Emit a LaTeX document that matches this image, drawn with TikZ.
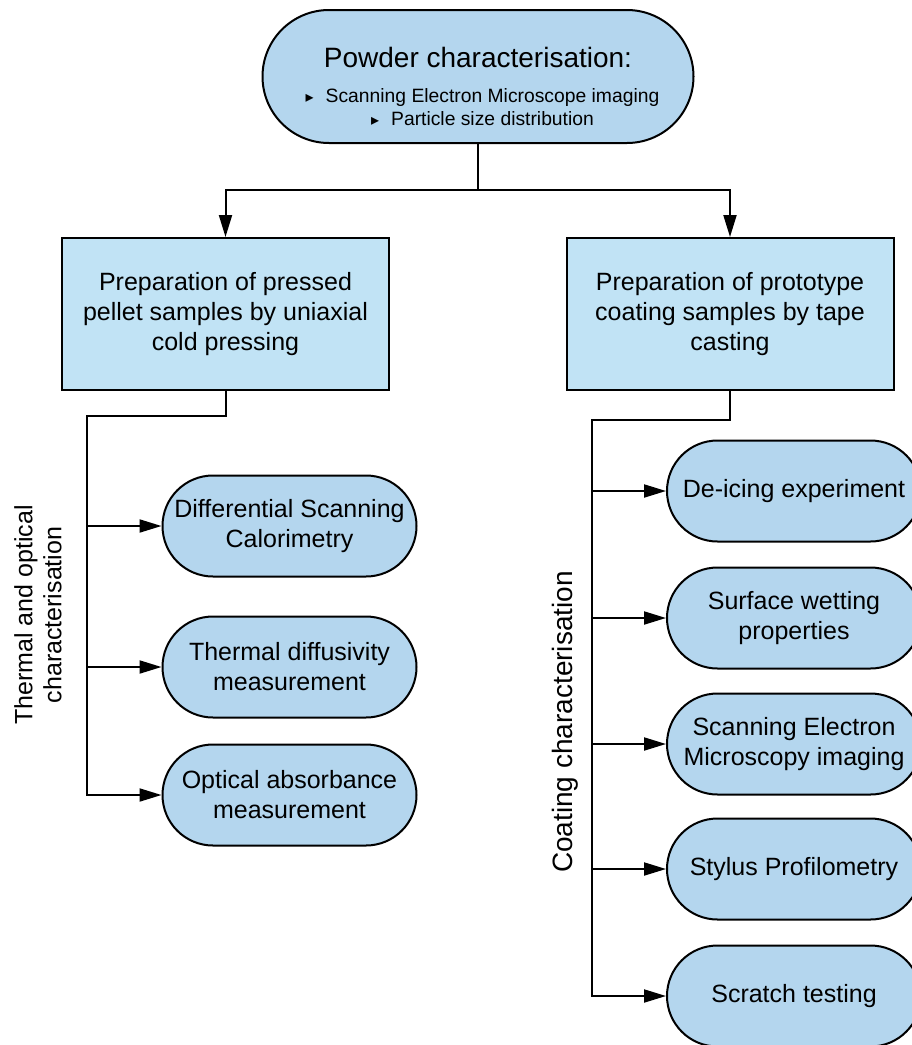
\documentclass[tikz,border=0pt]{standalone}
\usepackage{fontspec}
\setmainfont{Liberation Sans}
\newfontfamily\bulletfont{DejaVu Sans}
\usetikzlibrary{shapes.misc,arrows.meta,calc}
\definecolor{pillblue}{RGB}{180,214,238}
\definecolor{boxblue}{RGB}{193,227,245}
\newcommand{\bul}{{\bulletfont\fontsize{16}{16}\selectfont ▸}\hspace{12pt}}

\begin{document}
\begin{tikzpicture}[x=1pt, y=-1pt,
	pill/.style={rounded rectangle, draw, line width=2pt, fill=pillblue, minimum width=254pt, minimum height=101pt, align=center, font=\fontsize{25}{30}\selectfont, inner sep=0pt},
	prep/.style={rectangle, draw, line width=2pt, fill=boxblue, minimum width=327pt, minimum height=152pt, align=center, font=\fontsize{25}{30}\selectfont},
	link/.style={line width=2pt},
	arr/.style={link, -{Triangle[length=22pt,width=13pt]}},
	side/.style={rotate=90, align=center, font=\fontsize{25}{29}\selectfont}]
	\useasboundingbox (0,0) rectangle (912,1045);
	\node[pill, minimum width=431pt, minimum height=133pt] (powder) at (478,76.5) {};
	\node[anchor=base, font=\fontsize{28}{34}\selectfont] (powdertitle) at (478,67) {Powder characterisation:};
	\node[anchor=base, font=\fontsize{19.3}{23}\selectfont] (sembullet) at (482.5,102) {\bul Scanning Electron Microscope imaging};
	\node[anchor=base, font=\fontsize{19.3}{23}\selectfont] (psdbullet) at (482.5,125) {\bul Particle size distribution};

	\node[prep] (pellet) at (225.5,314) {Preparation of pressed\\pellet samples by uniaxial\\cold pressing};
	\node[prep] (coating) at (730,314) {Preparation of prototype\\coating samples by tape\\casting};

	\node[pill] (dsc) at (289.5,526) {Differential Scanning\\Calorimetry};
	\node[pill] (tdm) at (289.5,667) {Thermal diffusivity\\measurement};
	\node[pill] (oam) at (289.5,795) {Optical absorbance\\measurement};

	\node[pill] (dei) at (794,491) {De-icing experiment};
	\node[pill] (swp) at (794,618) {Surface wetting\\properties};
	\node[pill] (sem) at (794,744) {Scanning Electron\\Microscopy imaging};
	\node[pill] (spf) at (794,869) {Stylus Profilometry};
	\node[pill] (scr) at (794,996) {Scratch testing};

	\node[side] (thermallabel) at (38,615) {Thermal and optical\\characterisation};
	\node[side, font=\fontsize{28}{32}\selectfont] (coatinglabel) at (565,722) {Coating characterisation};

	\coordinate (split) at (478,190);
	\coordinate (lspine) at (87,416);
	\coordinate (rspine) at (592,420);

	\draw[link] (powder.south) -- (split);
	\draw[arr] (split) -| (pellet.north);
	\draw[arr] (split) -| (coating.north);
	\draw[arr] (pellet.south) |- (lspine) |- (oam.west);
	\draw[arr] (lspine |- dsc.west) -- (dsc.west);
	\draw[arr] (lspine |- tdm.west) -- (tdm.west);
	\draw[arr] (coating.south) |- (rspine) |- (scr.west);
	\foreach \target in {dei,swp,sem,spf}
		\draw[arr] (rspine |- \target.west) -- (\target.west);
\end{tikzpicture}
\end{document}
